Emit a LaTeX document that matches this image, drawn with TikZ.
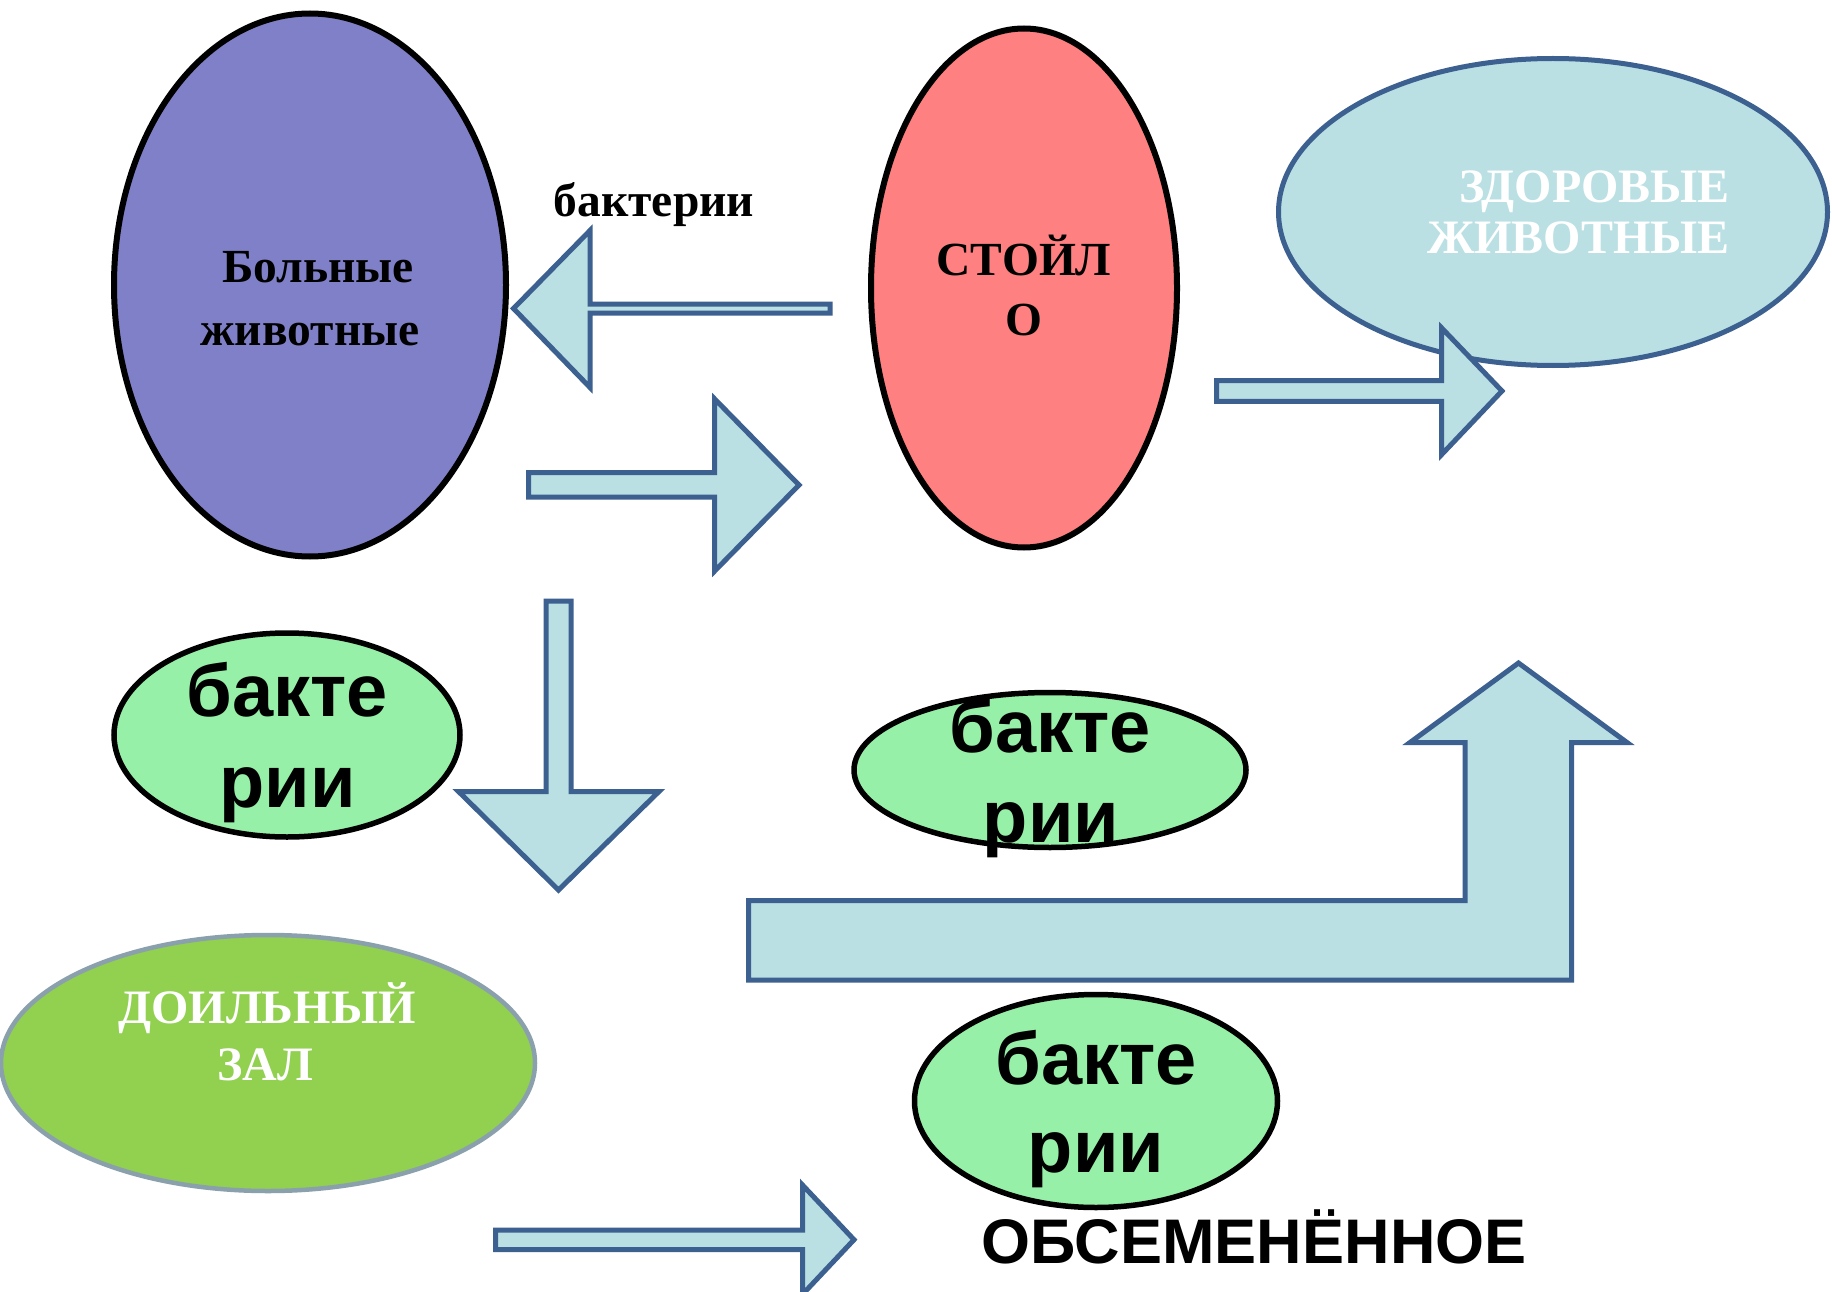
\documentclass[tikz,border=0pt]{standalone}
\usepackage{fontspec}
\setmainfont{Liberation Serif}
\newfontfamily\sansfam{Liberation Sans}
\usetikzlibrary{shapes.geometric}
\definecolor{purp}{RGB}{128,128,200}
\definecolor{pinkred}{RGB}{255,128,128}
\definecolor{lblue}{RGB}{186,224,227}
\definecolor{arrowedge}{RGB}{60,96,144}
\definecolor{mint}{RGB}{150,240,168}
\definecolor{olivegreen}{RGB}{146,208,80}
\definecolor{grayedge}{RGB}{138,160,172}
\begin{document}
\begin{tikzpicture}[x=1pt,y=-1pt,
  oval/.style={ellipse, inner sep=0pt},
  blockarrow/.style={fill=lblue, draw=arrowedge, line width=5pt, line join=miter},
  sertext/.style={font=\bfseries\fontsize{47.5}{54}\selectfont, inner sep=0pt, anchor=base},
  bigsans/.style={font=\sansfam\bfseries\fontsize{74}{80}\selectfont, inner sep=0pt, anchor=base},
]
\useasboundingbox (0,0) rectangle (1832,1292);
\fill[white] (0,0) rectangle (1832,1292);

% ellipses
\node[oval, fill=purp, draw=black, line width=6pt, minimum width=392pt, minimum height=543pt] (sick) at (310,285) {};
\node[oval, fill=pinkred, draw=black, line width=6pt, minimum width=306pt, minimum height=519pt] (stall) at (1024,288) {};
\node[oval, fill=lblue, draw=arrowedge, line width=5pt, minimum width=549pt, minimum height=307pt] (healthy) at (1553,212) {};
\node[oval, fill=mint, draw=black, line width=5.5pt, minimum width=346pt, minimum height=204pt] (bac1) at (287,735) {};
\node[oval, fill=mint, draw=black, line width=5.5pt, minimum width=392pt, minimum height=155pt] (bac2) at (1050,770) {};
\node[oval, fill=olivegreen, draw=grayedge, line width=4.5pt, minimum width=534pt, minimum height=256pt] (milk) at (268,1063) {};
\node[oval, fill=mint, draw=black, line width=5.5pt, minimum width=363pt, minimum height=213pt] (bac3) at (1096,1101) {};

% block arrows
\draw[blockarrow] (830,304) -- (590,304) -- (590,230.5) -- (513.5,308.5) -- (590,387.5) -- (590,313) -- (830,313) -- cycle;
\draw[blockarrow] (528.5,472.5) -- (714.7,472.5) -- (714.7,399) -- (799,485) -- (714.7,571) -- (714.7,497) -- (528.5,497) -- cycle;
\draw[blockarrow] (1216.5,380.5) -- (1441.7,380.5) -- (1441.7,328) -- (1502,391) -- (1441.7,454.5) -- (1441.7,401.3) -- (1216.5,401.3) -- cycle;
\draw[blockarrow] (546,601) -- (571,601) -- (571,791.5) -- (659,791.5) -- (558.5,890) -- (458.5,791.5) -- (546,791.5) -- cycle;
\draw[blockarrow] (748.5,900.5) -- (1465,900.5) -- (1465,742.5) -- (1410,742.5) -- (1518.5,663) -- (1627,742.5) -- (1571.5,742.5) -- (1571.5,980) -- (748.5,980) -- cycle;
\draw[blockarrow] (495.5,1230) -- (802.5,1230) -- (802.5,1185) -- (854,1239.7) -- (802.5,1294.4) -- (802.5,1249.5) -- (495.5,1249.5) -- cycle;

% texts
\node[sertext] (sickA) at (318,283) {Больные};
\node[sertext] (sickB) at (310,345) {животные};
\node[sertext] (bacT) at (654,217) {бактерии};
\node[sertext] (stallA) at (1024,275.5) {СТОЙЛ};
\node[sertext] (stallB) at (1024,335) {О};
\node[sertext, font=\bfseries\fontsize{48}{54}\selectfont, text=white, anchor=base east] (healthyA) at (1730,203) {ЗДОРОВЫЕ};
\node[sertext, font=\bfseries\fontsize{48}{54}\selectfont, text=white, anchor=base east] (healthyB) at (1730,254) {ЖИВОТНЫЕ};
\node[sertext, font=\bfseries\fontsize{48}{54}\selectfont, text=white] (milkA) at (267,1023) {ДОИЛЬНЫЙ};
\node[sertext, font=\bfseries\fontsize{48}{54}\selectfont, text=white] (milkB) at (265,1080) {ЗАЛ};
\node[bigsans] (b1a) at (287,716) {бакте};
\node[bigsans] (b1b) at (287.5,807) {рии};
\node[bigsans] (b2a) at (1050,752.6) {бакте};
\node[bigsans] (b2b) at (1051,842.5) {рии};
\node[bigsans] (b3a) at (1096,1084) {бакте};
\node[bigsans] (b3b) at (1096,1172.6) {рии};
\node[bigsans, font=\sansfam\bfseries\fontsize{63}{66}\selectfont] (seeded) at (1254,1263.5) {ОБСЕМЕНЁННОЕ};
\end{tikzpicture}
\end{document}
